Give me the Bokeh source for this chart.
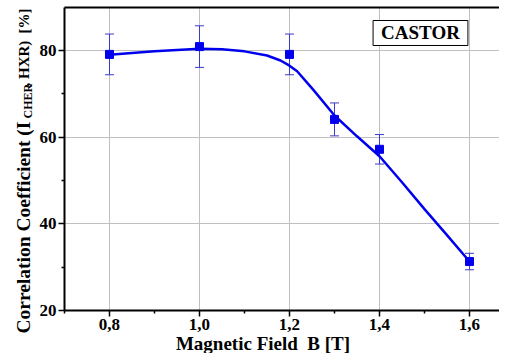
import math
from bokeh.plotting import figure
from bokeh.models import (Range1d, FixedTicker, Whisker, TeeHead, ColumnDataSource,
                          Label, LinearAxis)
from bokeh.embed import file_html
from bokeh.resources import INLINE

# ---- data ----
b_field = [0.8, 1.0, 1.2, 1.3, 1.4, 1.6]
corr = [79.1, 80.9, 79.1, 64.1, 57.2, 31.3]
corr_err = [4.7, 4.8, 4.7, 3.8, 3.4, 1.9]

fit_b = [0.80, 0.85, 0.90, 0.95, 1.00, 1.05, 1.10, 1.15, 1.18, 1.20, 1.217,
         1.254, 1.30, 1.35, 1.40, 1.45, 1.50, 1.55, 1.60]
fit_corr = [79.0, 79.4, 79.8, 80.1, 80.4, 80.3, 79.8, 78.85, 77.7, 76.5, 75.2,
            70.8, 65.0, 60.2, 55.6, 49.6, 43.4, 37.4, 31.3]

x_ticks = [0.8, 1.0, 1.2, 1.4, 1.6]
x_tick_labels = ["0,8", "1,0", "1,2", "1,4", "1,6"]
x_minor = [0.7, 0.9, 1.1, 1.3, 1.5]
y_ticks = [20, 40, 60, 80]
y_minor = [30, 50, 70]

x_label = "Magnetic Field\u00a0 B [T]"
y_label_parts = ["Correlation Coefficient (I", "CHER", ", HXR)", "[%]"]
tag = "CASTOR"

BLUE = "#0000ee"
SERIF = "Liberation Serif"
NARROW = "Liberation Sans Narrow"

# data window of the plot (axes box) and the full view around it
X0, X1 = 0.7, 1.6667
Y0, Y1 = 20, 89.9

p = figure(width=499, height=353, output_backend="svg", toolbar_location=None,
           x_range=Range1d(0.55778, 1.66667), y_range=Range1d(10.077, 91.538),
           min_border_left=0, min_border_right=0, min_border_top=0,
           min_border_bottom=0)
p.outline_line_color = None
p.background_fill_color = "white"
p.border_fill_color = "white"

# axes placed at the edges of the data box
p.xaxis.ticker = FixedTicker(ticks=x_ticks, minor_ticks=x_minor)
p.yaxis.ticker = FixedTicker(ticks=y_ticks, minor_ticks=y_minor)
p.xaxis.major_label_overrides = dict(zip(x_ticks, x_tick_labels))
p.xaxis.fixed_location = Y0
p.yaxis.fixed_location = X0
p.xaxis.bounds = (X0, X1)
p.yaxis.bounds = (Y0, Y1)
for ax in (p.xaxis, p.yaxis):
    ax.axis_line_width = 2
    ax.axis_line_color = "black"
    ax.major_tick_in = 0
    ax.major_tick_out = 6
    ax.minor_tick_in = 0
    ax.minor_tick_out = 3
    ax.major_tick_line_width = 1.5
    ax.minor_tick_line_width = 1.5
    ax.major_tick_line_color = "black"
    ax.minor_tick_line_color = "black"
    ax.major_label_text_font = NARROW
    ax.major_label_text_font_style = "bold"
    ax.major_label_text_font_size = "17px"
    ax.major_label_text_color = "black"
    ax.major_label_standoff = 2

top_axis = LinearAxis(fixed_location=Y1, bounds=(X0, X1), axis_line_width=2,
                      axis_line_color="black",
                      ticker=FixedTicker(ticks=[], minor_ticks=[]),
                      major_tick_line_color=None, minor_tick_line_color=None)
p.add_layout(top_axis, "above")

p.xgrid.grid_line_color = "#c0c0c0"
p.ygrid.grid_line_color = "#c0c0c0"
p.xgrid.cross_bounds = (Y0, Y1)
p.ygrid.cross_bounds = (X0, X1)
p.xgrid.bounds = (X0, X1)
p.ygrid.bounds = (Y0, Y1)

# fitted curve
p.line(fit_b, fit_corr, line_color=BLUE, line_width=2.5)

# error bars
src = ColumnDataSource(dict(
    x=b_field, y=corr,
    lo=[c - e for c, e in zip(corr, corr_err)],
    hi=[c + e for c, e in zip(corr, corr_err)]))
whisk = Whisker(source=src, base="x", upper="hi", lower="lo",
                line_color="#3a3ac8", line_width=1,
                upper_head=TeeHead(size=9, line_color="#3a3ac8", line_width=1),
                lower_head=TeeHead(size=9, line_color="#3a3ac8", line_width=1))
p.add_layout(whisk)

# markers
p.scatter("x", "y", source=src, marker="square", size=8,
          fill_color=BLUE, line_color=BLUE)

# CASTOR box
p.add_layout(Label(x=1.4911, y=84.04, text=tag, text_align="center",
                   text_baseline="middle", text_font=SERIF,
                   text_font_style="bold", text_font_size="19px",
                   text_color="black", border_line_color="black",
                   border_line_width=1, background_fill_color="white",
                   padding=dict(x=8, y=2)))

# x axis label
p.add_layout(Label(x=1.1411, y=12.38, text=x_label, text_align="center",
                   text_baseline="alphabetic", text_font=SERIF,
                   text_font_style="bold", text_font_size="19px",
                   text_color="black"))

# y axis label (pieces, rotated)
yl_pos = [(0.6089, 14.69, "19.5px"), (0.6178, 64.31, "12px"),
          (0.6089, 71.69, "15px"), (0.6089, 83.92, "15px")]
for txt, (lx, ly, fs) in zip(y_label_parts, yl_pos):
    p.add_layout(Label(x=lx, y=ly, text=txt, angle=math.pi / 2,
                       text_align="left", text_baseline="alphabetic",
                       text_font=SERIF, text_font_style="bold",
                       text_font_size=fs, text_color="black"))

open("out.html", "w").write(file_html(p, INLINE))
